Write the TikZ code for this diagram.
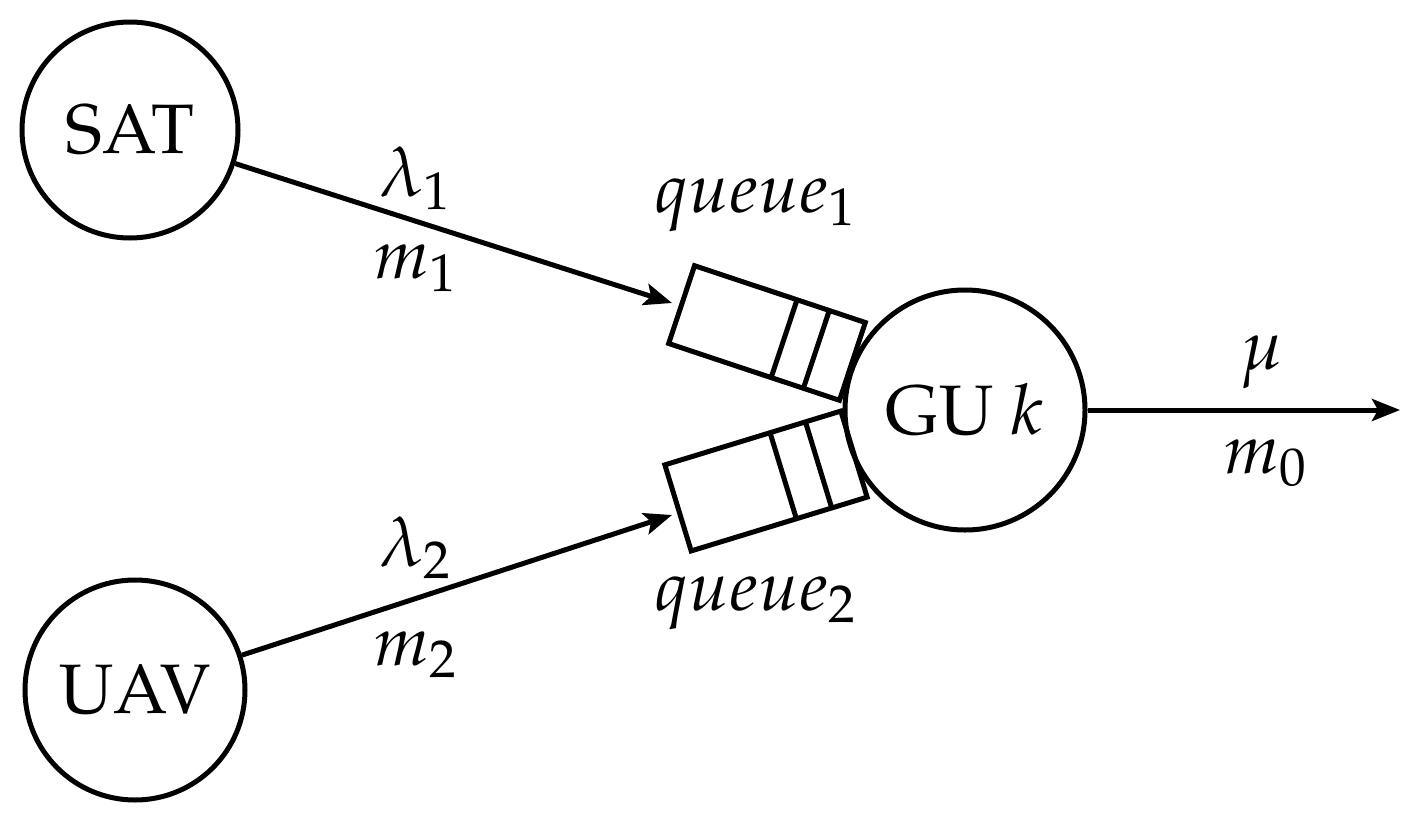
\documentclass[tikz,border=0pt]{standalone}
\usepackage[T1]{fontenc}
\usepackage{mathpazo}
\usetikzlibrary{arrows.meta}
\begin{document}
\begin{tikzpicture}[x=1pt,y=-1pt,line width=5pt,
  every node/.style={font=\fontsize{70}{74}\selectfont},
  ent/.style={circle,draw,inner sep=0pt},
  arr/.style={-{Stealth[length=28pt,width=22pt,inset=6pt]}},
  lbl/.style={inner sep=0pt}]
\useasboundingbox (0,0) rectangle (1417,830);
\node[ent,minimum size=216pt] (sat) at (130,130) {SAT};
\node[ent,minimum size=220pt] (uav) at (135,690) {UAV};
\node[ent,minimum size=240pt] (gu) at (965,410) {GU $k$};
\begin{scope}[shift={(767,333)},rotate=-18.4]
  \draw (-90,-41) rectangle (90,41);
  \draw (18,-41) -- (18,41); \draw (52,-41) -- (52,41);
\end{scope}
\begin{scope}[shift={(766,481)},rotate=17]
  \draw (-92,-45) rectangle (92,45);
  \draw (18,-45) -- (18,45); \draw (55,-45) -- (55,45);
\end{scope}
\coordinate (q1) at (672,303);
\coordinate (q2) at (672,515);
\coordinate (out) at (1400,410);
\draw[arr] (sat) -- (q1);
\draw[arr] (uav) -- (q2);
\draw[arr] (gu) -- (out);
\node[lbl] (l1) at (415,178) {$\lambda_1$};
\node[lbl] (m1) at (415,268) {$m_1$};
\node[lbl] (l2) at (415,548) {$\lambda_2$};
\node[lbl] (m2) at (415,655) {$m_2$};
\node[lbl] (qa) at (755,205) {$queue_1$};
\node[lbl] (qb) at (755,603) {$queue_2$};
\node[lbl] (mu) at (1262,362) {$\mu$};
\node[lbl] (m0) at (1265,463) {$m_0$};
\end{tikzpicture}
\end{document}
